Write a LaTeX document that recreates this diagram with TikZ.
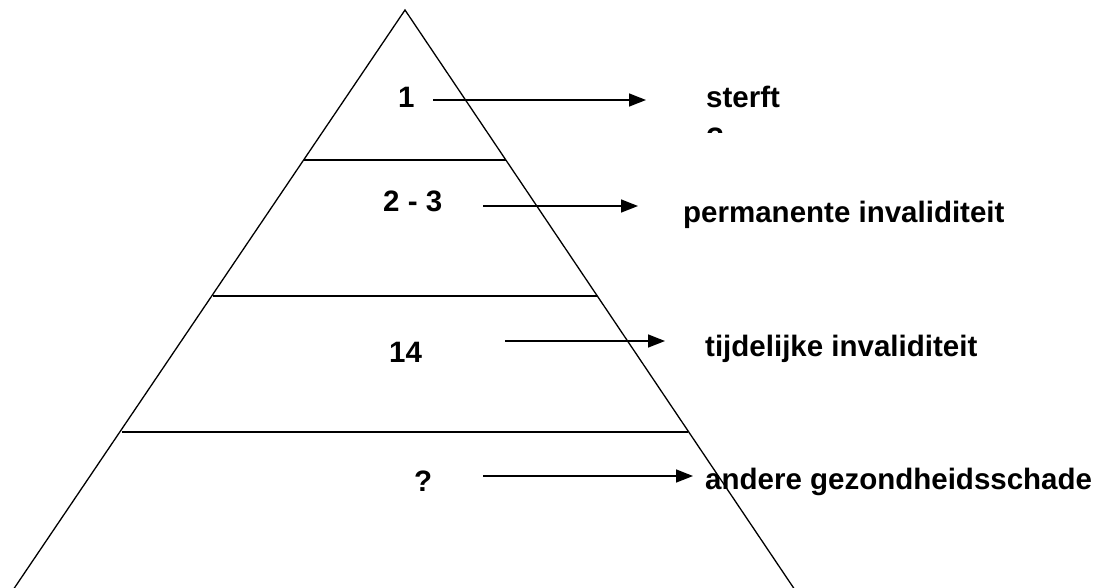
\documentclass[tikz,border=0pt]{standalone}
\usepackage{fontspec}
\setmainfont{Liberation Sans}
\usetikzlibrary{arrows.meta}
\begin{document}
\begin{tikzpicture}[x=1pt,y=-1pt,
  edge/.style={line width=1.3pt},
  pointer/.style={line width=1.5pt,-{Triangle[length=17pt,width=13pt]}},
  lbl/.style={anchor=base west,inner sep=0pt,font=\fontsize{29.5}{35}\selectfont\bfseries}]
\useasboundingbox (0,0) rectangle (1113,587);
\clip (0,0) rectangle (1113,587);

% pyramid outline and level dividers
\coordinate (apex) at (405,10);
\coordinate (bl) at (13,590);
\coordinate (br) at (795,590);
\draw[edge] (bl) -- (apex) -- (br);
\coordinate (l1a) at (304,160); \coordinate (l1b) at (506,160);
\coordinate (l2a) at (213,296); \coordinate (l2b) at (597,296);
\coordinate (l3a) at (122,432); \coordinate (l3b) at (688,432);
\draw[edge] (l1a) -- (l1b);
\draw[edge] (l2a) -- (l2b);
\draw[edge] (l3a) -- (l3b);

% counts per level
\node[lbl] (n1) at (398,107) {1};
\node[lbl] (n2) at (383,211.5) {2 - 3};
\node[lbl] (n3) at (389,362.5) {14};
\node[lbl] (n4) at (414,491) {?};

% outcomes
\node[lbl] (o1) at (706,107) {sterft};
\begin{scope}
  \clip (690,118) rectangle (760,132);
  \node[lbl] (o1b) at (706,148) {?};
\end{scope}
\node[lbl] (o2) at (683,222) {permanente invaliditeit};
\node[lbl] (o3) at (705,356) {tijdelijke invaliditeit};
\node[lbl] (o4) at (705,489) {andere gezondheidsschade};

% arrows from counts to outcomes
\coordinate (a1s) at (433,100); \coordinate (a1e) at (646,100);
\coordinate (a2s) at (483,206); \coordinate (a2e) at (638,206);
\coordinate (a3s) at (505,341); \coordinate (a3e) at (665,341);
\coordinate (a4s) at (483,476); \coordinate (a4e) at (693,476);
\draw[pointer] (a1s) -- (a1e);
\draw[pointer] (a2s) -- (a2e);
\draw[pointer] (a3s) -- (a3e);
\draw[pointer] (a4s) -- (a4e);
\end{tikzpicture}
\end{document}
